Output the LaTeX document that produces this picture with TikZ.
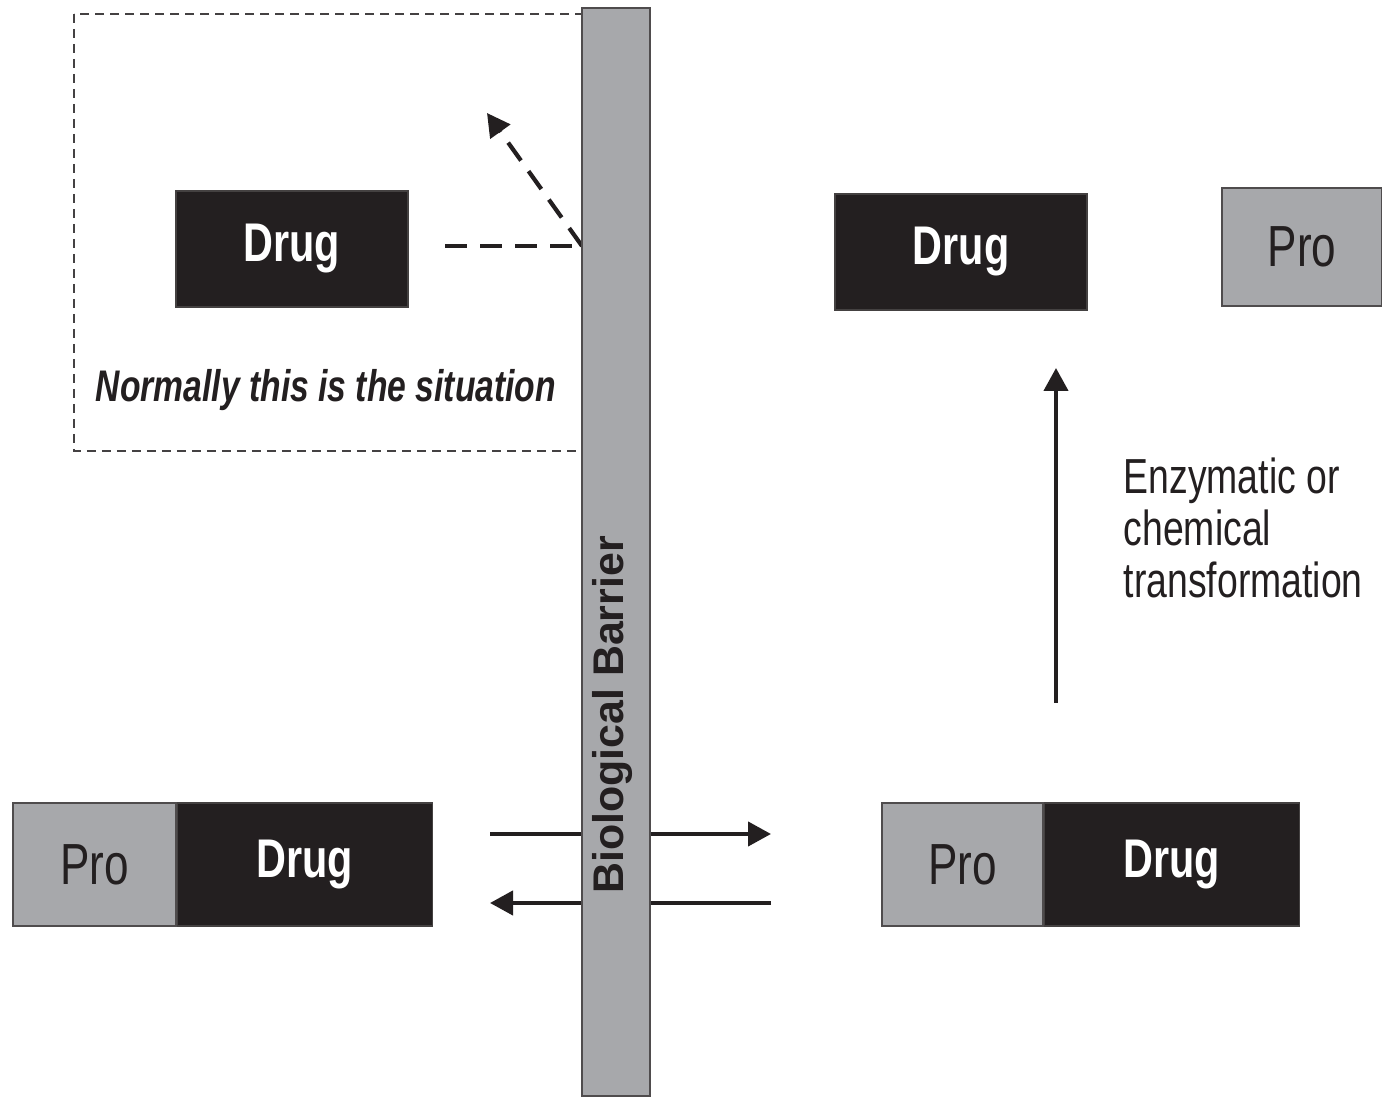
\documentclass[tikz,border=0pt]{standalone}
\usepackage{fontspec}
\setmainfont{Liberation Sans}
\newfontfamily\narrowsans{Liberation Sans}[FakeStretch=0.76]
\usetikzlibrary{shapes,positioning,arrows.meta}

\definecolor{barriergray}{HTML}{A7A8AB}
\definecolor{inkblack}{HTML}{231F20}

\tikzset{
  drugbox/.style={draw=inkblack!85, fill=inkblack, text=white, inner sep=0pt,
    font=\narrowsans\bfseries\fontsize{15.5}{18}\selectfont},
  probox/.style={draw=inkblack!80, fill=barriergray, text=inkblack, inner sep=0pt,
    font=\narrowsans\fontsize{16.5}{18}\selectfont},
  flow/.style={line width=1.2pt, -{Triangle[length=2.3mm,width=2.4mm]}},
}

\begin{document}
\begin{tikzpicture}
    \useasboundingbox (0,0) rectangle (13.82,-10.98);

    % Draw the dashed box of the usual case
    \draw[inkblack!85, line width=0.7pt, dash pattern=on 0.9mm off 0.6mm] (0.74,-0.14) rectangle (5.82,-4.51);

    % Draw free drug boxes
    \node[drugbox, minimum width=2.32cm, minimum height=1.16cm] (drugin) at (2.92,-2.49) {Drug};
    \node[drugbox, minimum width=2.52cm, minimum height=1.16cm] (drugout) at (9.61,-2.52) {Drug};
    \node[probox, minimum width=1.60cm, minimum height=1.18cm] (profree) at (13.02,-2.47) {Pro};

    % Draw prodrug boxes
    \node[probox, minimum width=1.63cm, minimum height=1.23cm] (proleft) at (0.945,-8.645) {Pro};
    \node[drugbox, minimum width=2.55cm, minimum height=1.23cm, right=0pt of proleft] (drugleft) {Drug};
    \node[probox, minimum width=1.61cm, minimum height=1.23cm] (proright) at (9.625,-8.645) {Pro};
    \node[drugbox, minimum width=2.55cm, minimum height=1.23cm, right=0pt of proright] (drugright) {Drug};

    % Label of the usual case
    \node[font=\narrowsans\bfseries\itshape\fontsize{12.6}{15}\selectfont, text=inkblack] (normallabel) at (3.26,-3.90) {Normally this is the situation};

    % Points for connecting arrows
    \coordinate (dashstart) at (4.45,-2.46);
    \coordinate (hit) at (5.82,-2.46);
    \coordinate (bounce) at (4.87,-1.13);
    \coordinate (inA) at (4.90,-8.34);
    \coordinate (outA) at (7.71,-8.34);
    \coordinate (inB) at (7.71,-9.03);
    \coordinate (outB) at (4.90,-9.03);
    \coordinate (transfstart) at (10.56,-7.03);
    \coordinate (transfend) at (10.56,-3.68);

    % Draw dashed path bouncing off the barrier
    \draw[inkblack, line width=1.2pt, dash pattern=on 2.2mm off 1.3mm] (dashstart) -- (hit);
    \draw[inkblack, line width=1.2pt, dash pattern=on 2.2mm off 1.3mm, -{Triangle[length=2.3mm,width=2.4mm]}] (hit) -- (bounce);

    % Draw hor. arrows through the barrier
    \draw[flow, inkblack] (inA) -- (outA);
    \draw[flow, inkblack] (inB) -- (outB);

    % Draw the barrier on top
    \node[draw=inkblack!80, fill=barriergray, line width=0.8pt, minimum width=0.68cm, minimum height=10.88cm, inner sep=0pt] (barrier) at (6.16,-5.52) {};
    \node[rotate=90, font=\bfseries\fontsize{12.2}{14}\selectfont, text=inkblack] (barrierlabel) at (6.13,-7.15) {Biological Barrier};

    % Draw ver. transformation arrow
    \draw[flow, inkblack] (transfstart) -- (transfend);
    \node[anchor=base west, align=left, inner sep=0pt, text=inkblack,
      font=\narrowsans\fontsize{14}{14.8}\selectfont] (transflabel) at (11.23,-5.98)
      {Enzymatic or\\chemical\\transformation};

\end{tikzpicture}
\end{document}
